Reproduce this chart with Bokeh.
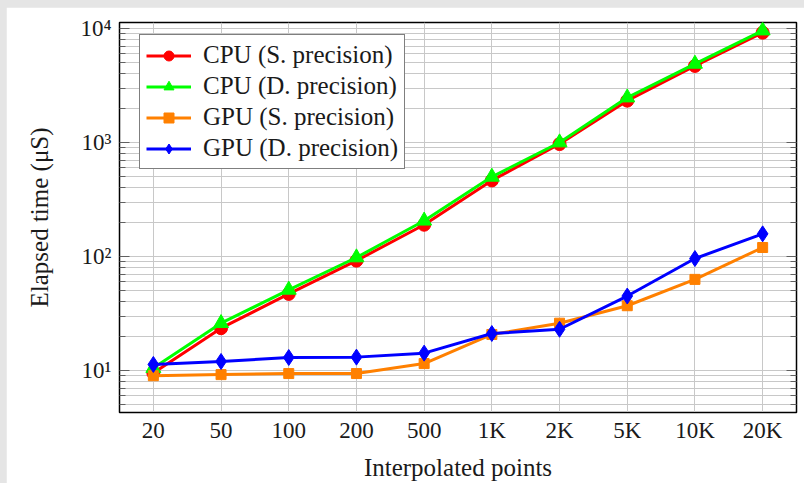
from bokeh.plotting import figure
from bokeh.models import (FactorRange, Range1d, FixedTicker, LogAxis, Legend,
                          LegendItem, CustomJSTickFormatter)
from bokeh.embed import file_html
from bokeh.resources import INLINE

points = ["20", "50", "100", "200", "500", "1K", "2K", "5K", "10K", "20K"]
cpu_single = [9.5, 23.5, 47, 92, 190, 465, 970, 2330, 4700, 9200]
cpu_double = [10.5, 26, 51, 98, 206, 500, 1000, 2480, 4900, 9600]
gpu_single = [9.0, 9.2, 9.4, 9.4, 11.5, 20.7, 26, 37, 63, 120]
gpu_double = [11.3, 12.0, 13.0, 13.1, 14.2, 21.1, 23, 45, 96, 158]

y_major = [10, 100, 1000, 10000]
y_labels = {10: "10¹", 100: "10²", 1000: "10³", 10000: "10⁴"}
y_minor = [m * d for d in [1, 10, 100, 1000, 10000] for m in range(2, 10)]

FONT = "Liberation Serif"
TXT = "#1a1a1a"

p = figure(width=798, height=476, x_range=FactorRange(factors=points),
           y_axis_type="log", y_range=Range1d(4.28, 11300),
           output_backend="svg", toolbar_location=None,
           min_border_left=113, min_border_right=8,
           min_border_top=15, min_border_bottom=64)
p.background_fill_color = "white"
p.border_fill_color = "white"
p.outline_line_color = "black"
p.outline_line_width = 1.5

# grids
p.xgrid.grid_line_color = "#c8c8c8"
p.xgrid.grid_line_width = 1
p.ygrid.ticker = FixedTicker(ticks=y_major, minor_ticks=y_minor)
p.ygrid.grid_line_color = "#c8c8c8"
p.ygrid.minor_grid_line_color = "#c8c8c8"

# y axis
ya = p.yaxis[0]
ya.ticker = FixedTicker(ticks=y_major, minor_ticks=y_minor)
ya.major_label_overrides = y_labels
ya.axis_label = "Elapsed time (μS)"
ya.axis_label_text_font = FONT
ya.axis_label_text_font_style = "normal"
ya.axis_label_text_font_size = "25px"
ya.axis_label_text_color = TXT
ya.axis_label_standoff = 24
ya.major_label_text_font = FONT
ya.major_label_text_font_size = "23px"
ya.major_label_text_color = TXT
ya.major_label_standoff = 8
ya.major_tick_in = 10
ya.major_tick_out = 0
ya.minor_tick_in = 6
ya.minor_tick_out = 0
ya.major_tick_line_color = "#606060"
ya.minor_tick_line_color = "#606060"
ya.axis_line_color = "black"

ra = LogAxis(ticker=FixedTicker(ticks=y_major, minor_ticks=y_minor),
             formatter=CustomJSTickFormatter(code="return '';"))
ra.major_label_standoff = 0
ra.major_tick_in = 10
ra.major_tick_out = 0
ra.minor_tick_in = 6
ra.minor_tick_out = 0
ra.major_tick_line_color = "#606060"
ra.minor_tick_line_color = "#606060"
ra.axis_line_color = "black"
p.add_layout(ra, "right")

# x axis
xa = p.xaxis[0]
xa.axis_label = "Interpolated points"
xa.axis_label_text_font = FONT
xa.axis_label_text_font_style = "normal"
xa.axis_label_text_font_size = "25px"
xa.axis_label_text_color = TXT
xa.axis_label_standoff = 8
xa.major_label_text_font = FONT
xa.major_label_text_font_size = "23px"
xa.major_label_text_color = TXT
xa.major_label_standoff = 5
xa.major_tick_in = 0
xa.major_tick_out = 0
xa.axis_line_color = "black"

series = [
    ("CPU (S. precision)", cpu_single, "#ff0000", "circle", 13),
    ("CPU (D. precision)", cpu_double, "#00ff00", "triangle", 15),
    ("GPU (S. precision)", gpu_single, "#ff8000", "square", 10),
    ("GPU (D. precision)", gpu_double, "#0000ff", "diamond", 16),
]

items = []
for name, vals, color, marker, size in series:
    ln = p.line(points, vals, line_color=color, line_width=3)
    sc = p.scatter(points, vals, marker=marker, size=size,
                   fill_color=color, line_color=color)
    items.append(LegendItem(label=name, renderers=[ln, sc]))

legend = Legend(items=items, location=(20, 243))
legend.label_text_font = FONT
legend.label_text_font_size = "25px"
legend.label_text_color = TXT
legend.border_line_color = "black"
legend.border_line_width = 1
legend.background_fill_color = "white"
legend.background_fill_alpha = 1
legend.padding = 6
legend.spacing = 3
legend.glyph_width = 45
legend.glyph_height = 25
legend.label_height = 25
legend.label_standoff = 12
legend.margin = 0
p.add_layout(legend)

html = file_html(p, INLINE)
html = html.replace(
    "</head>",
    "<style>body {background:#e5e5e5 !important; padding:7px 0 0 6px !important;}</style></head>",
    1)
open("out.html", "w").write(html)
